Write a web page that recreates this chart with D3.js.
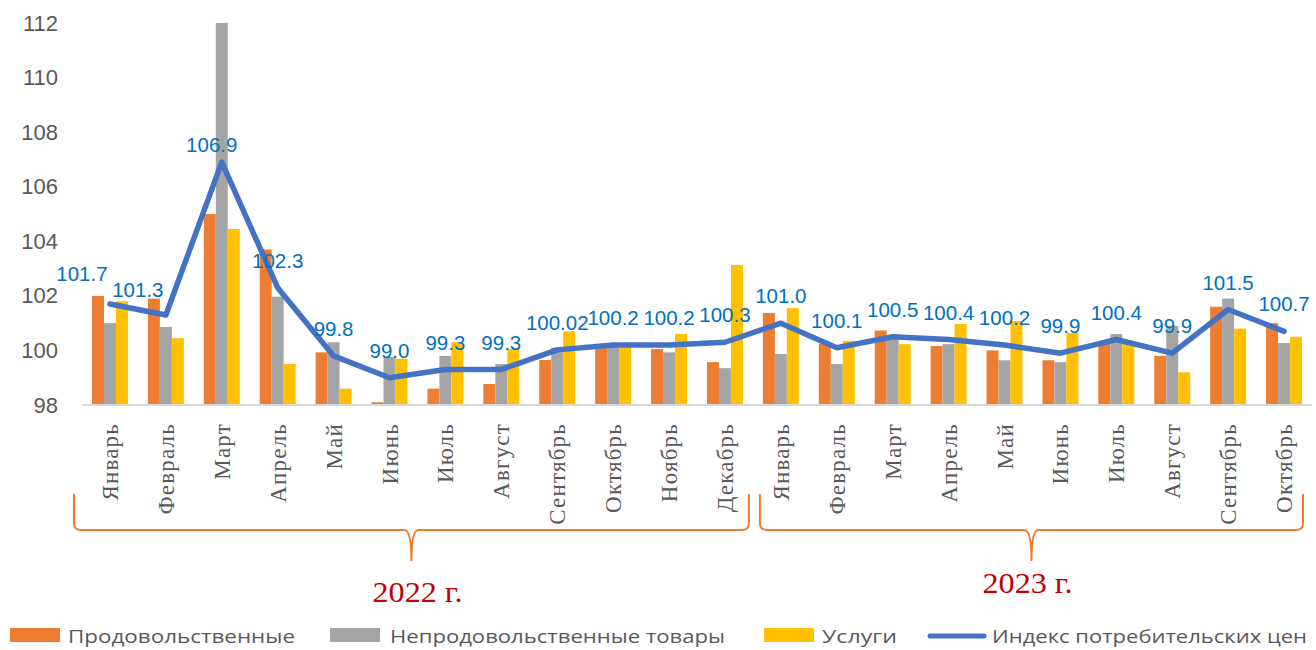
<!DOCTYPE html>
<html>
<head>
<meta charset="utf-8">
<script src="https://cdn.jsdelivr.net/npm/d3@7"></script>
<style>
  body { margin: 0; background: #fff; }
  svg { display: block; }
</style>
</head>
<body>
<div id="chart"></div>
<script>
var W = 1316, H = 650;

// months, 2022 (Jan-Dec) and 2023 (Jan-Oct)
var months = ["Январь","Февраль","Март","Апрель","Май","Июнь","Июль","Август","Сентябрь","Октябрь","Ноябрь","Декабрь",
              "Январь","Февраль","Март","Апрель","Май","Июнь","Июль","Август","Сентябрь","Октябрь"];

var food     = [102.0, 101.9, 105.0, 103.7, 99.93, 98.1, 98.6, 98.77, 99.65, 100.1, 100.05, 99.57,
                101.37, 100.25, 100.73, 100.16, 100.0, 99.64, 100.27, 99.8, 101.6, 101.0];
var nonfood  = [101.0, 100.86, 112.0, 101.97, 100.3, 99.76, 99.8, 99.5, 100.1, 100.2, 99.93, 99.35,
                99.87, 99.5, 100.56, 100.23, 99.64, 99.57, 100.6, 100.9, 101.9, 100.27];
var services = [101.8, 100.45, 104.45, 99.5, 98.6, 99.7, 100.3, 100.05, 100.7, 100.15, 100.6, 103.13,
                101.55, 100.35, 100.23, 100.97, 101.08, 100.64, 100.27, 99.2, 100.8, 100.5];
var cpi      = [101.7, 101.3, 106.9, 102.3, 99.8, 99.0, 99.3, 99.3, 100.02, 100.2, 100.2, 100.3,
                101.0, 100.1, 100.5, 100.4, 100.2, 99.9, 100.4, 99.9, 101.5, 100.7];
var cpiLabels = ["101.7","101.3","106.9","102.3","99.8","99.0","99.3","99.3","100.02","100.2","100.2","100.3",
                 "101.0","100.1","100.5","100.4","100.2","99.9","100.4","99.9","101.5","100.7"];

var yTicks = [98, 100, 102, 104, 106, 108, 110, 112];

var seriesNames = ["Продовольственные", "Непродовольственные товары", "Услуги"];
var lineName = "Индекс потребительских цен";
var colors = ["#ED7D31", "#A5A5A5", "#FFC000"];
var lineColor = "#4472C4";

var years = [
	{ label: "2022 г.", from: 0, to: 11 },
	{ label: "2023 г.", from: 12, to: 21 }
];

// a few data labels are moved by hand in the original
var labelNudge = { 0: [-28, -3], 1: [-28, 2], 2: [-10, 10] };

var svg = d3.select("#chart").append("svg")
	.attr("width", W)
	.attr("height", H);

var x = d3.scaleBand()
	.domain(d3.range(months.length))
	.range([82, 1312])
	.paddingInner(0.357)
	.paddingOuter(0.1785);

var x1 = d3.scaleBand()
	.domain([0, 1, 2])
	.range([0, x.bandwidth()]);

var y = d3.scaleLinear()
	.domain([98, 112])
	.range([405, 23]);

// y axis labels
var yAxis = d3.axisLeft(y).tickValues(yTicks).tickSize(0).tickPadding(0).tickFormat(d3.format("d"));
var yg = svg.append("g")
	.attr("transform", "translate(58,0)")
	.call(yAxis);
yg.select(".domain").remove();
yg.selectAll("text")
	.attr("font-family", "'Liberation Sans', Arial, sans-serif")
	.attr("font-size", 22)
	.attr("fill", "#595959");

// bars
var rows = months.map(function(m, i) { return [food[i], nonfood[i], services[i]]; });

var groups = svg.append("g").selectAll("g")
	.data(rows)
	.enter().append("g")
	.attr("transform", function(d, i) { return "translate(" + x(i) + ",0)"; });

groups.selectAll("rect")
	.data(function(d) { return d; })
	.enter().append("rect")
	.attr("x", function(d, j) { return x1(j); })
	.attr("y", function(d) { return y(d); })
	.attr("width", x1.bandwidth())
	.attr("height", function(d) { return y(98) - y(d); })
	.attr("fill", function(d, j) { return colors[j]; });

// baseline
svg.append("line")
	.attr("x1", x.range()[0]).attr("x2", x.range()[1])
	.attr("y1", y(98)).attr("y2", y(98))
	.attr("stroke", "#D9D9D9")
	.attr("stroke-width", 2);

// CPI line
var cx = function(i) { return x(i) + x.bandwidth() / 2; };
var line = d3.line()
	.x(function(d, i) { return cx(i); })
	.y(function(d) { return y(d); });

svg.append("path")
	.datum(cpi)
	.attr("d", line)
	.attr("fill", "none")
	.attr("stroke", lineColor)
	.attr("stroke-width", 5.5)
	.attr("stroke-linejoin", "round")
	.attr("stroke-linecap", "round");

svg.append("g").selectAll("text")
	.data(cpi)
	.enter().append("text")
	.attr("x", function(d, i) { return cx(i) + (labelNudge[i] ? labelNudge[i][0] : 0); })
	.attr("y", function(d, i) { return y(d) - 20 + (labelNudge[i] ? labelNudge[i][1] : 0); })
	.attr("text-anchor", "middle")
	.attr("font-family", "'Liberation Sans', Arial, sans-serif")
	.attr("font-size", 20.5)
	.attr("fill", "#0070C0")
	.text(function(d, i) { return cpiLabels[i]; });

// month labels, rotated
svg.append("g").selectAll("text")
	.data(months)
	.enter().append("text")
	.attr("transform", function(d, i) { return "translate(" + cx(i) + ",423) rotate(-90)"; })
	.attr("text-anchor", "end")
	.attr("dy", "0.35em")
	.attr("font-family", "'Liberation Serif', 'Times New Roman', serif")
	.attr("font-size", 23)
	.attr("letter-spacing", 1.2)
	.attr("fill", "#595959")
	.text(function(d) { return d; });

// year braces
var braceTop = 494, braceMid = 530, braceTip = 561, r = 7;
var insets = [[-8, -4], [7, -9]];
years.forEach(function(g, k) {
	var left = x(g.from) - x.step() * x.paddingInner() / 2 + insets[k][0];
	var right = x(g.to) + x.bandwidth() + x.step() * x.paddingInner() / 2 + insets[k][1];
	var mid = (left + right) / 2;
	var p = d3.path();
	p.moveTo(left, braceTop);
	p.lineTo(left, braceMid - r);
	p.quadraticCurveTo(left, braceMid, left + r, braceMid);
	p.lineTo(mid - r, braceMid);
	p.quadraticCurveTo(mid, braceMid, mid, braceTip);
	p.quadraticCurveTo(mid, braceMid, mid + r, braceMid);
	p.lineTo(right - r, braceMid);
	p.quadraticCurveTo(right, braceMid, right, braceMid - r);
	p.lineTo(right, braceTop);
	svg.append("path")
		.attr("d", p.toString())
		.attr("fill", "none")
		.attr("stroke", "#ED7D31")
		.attr("stroke-width", 2);

	svg.append("text")
		.attr("x", mid + (k == 0 ? 6 : -4))
		.attr("y", k == 0 ? 602 : 593)
		.attr("text-anchor", "middle")
		.attr("font-family", "'Liberation Serif', 'Times New Roman', serif")
		.attr("font-size", 30)
		.attr("textLength", 90)
		.attr("lengthAdjust", "spacingAndGlyphs")
		.attr("fill", "#C00000")
		.text(g.label);
});

// legend
var legend = svg.append("g").attr("font-family", "'Open Sans', sans-serif").attr("font-size", 19).attr("fill", "#595959");
var legendItems = [
	{ name: seriesNames[0], color: colors[0], x: 10, tx: 68, w: 227 },
	{ name: seriesNames[1], color: colors[1], x: 330, tx: 390, w: 335 },
	{ name: seriesNames[2], color: colors[2], x: 764, tx: 822, w: 75 }
];
legendItems.forEach(function(it) {
	legend.append("rect")
		.attr("x", it.x).attr("y", 628)
		.attr("width", 50).attr("height", 14)
		.attr("fill", it.color);
	legend.append("text")
		.attr("x", it.tx).attr("y", 643)
		.attr("textLength", it.w)
		.attr("lengthAdjust", "spacingAndGlyphs")
		.text(it.name);
});
legend.append("line")
	.attr("x1", 930).attr("x2", 984)
	.attr("y1", 636).attr("y2", 636)
	.attr("stroke", lineColor)
	.attr("stroke-width", 5)
	.attr("stroke-linecap", "round");
legend.append("text")
	.attr("x", 992).attr("y", 643)
	.attr("textLength", 315)
	.attr("lengthAdjust", "spacingAndGlyphs")
	.text(lineName);
</script>
</body>
</html>
